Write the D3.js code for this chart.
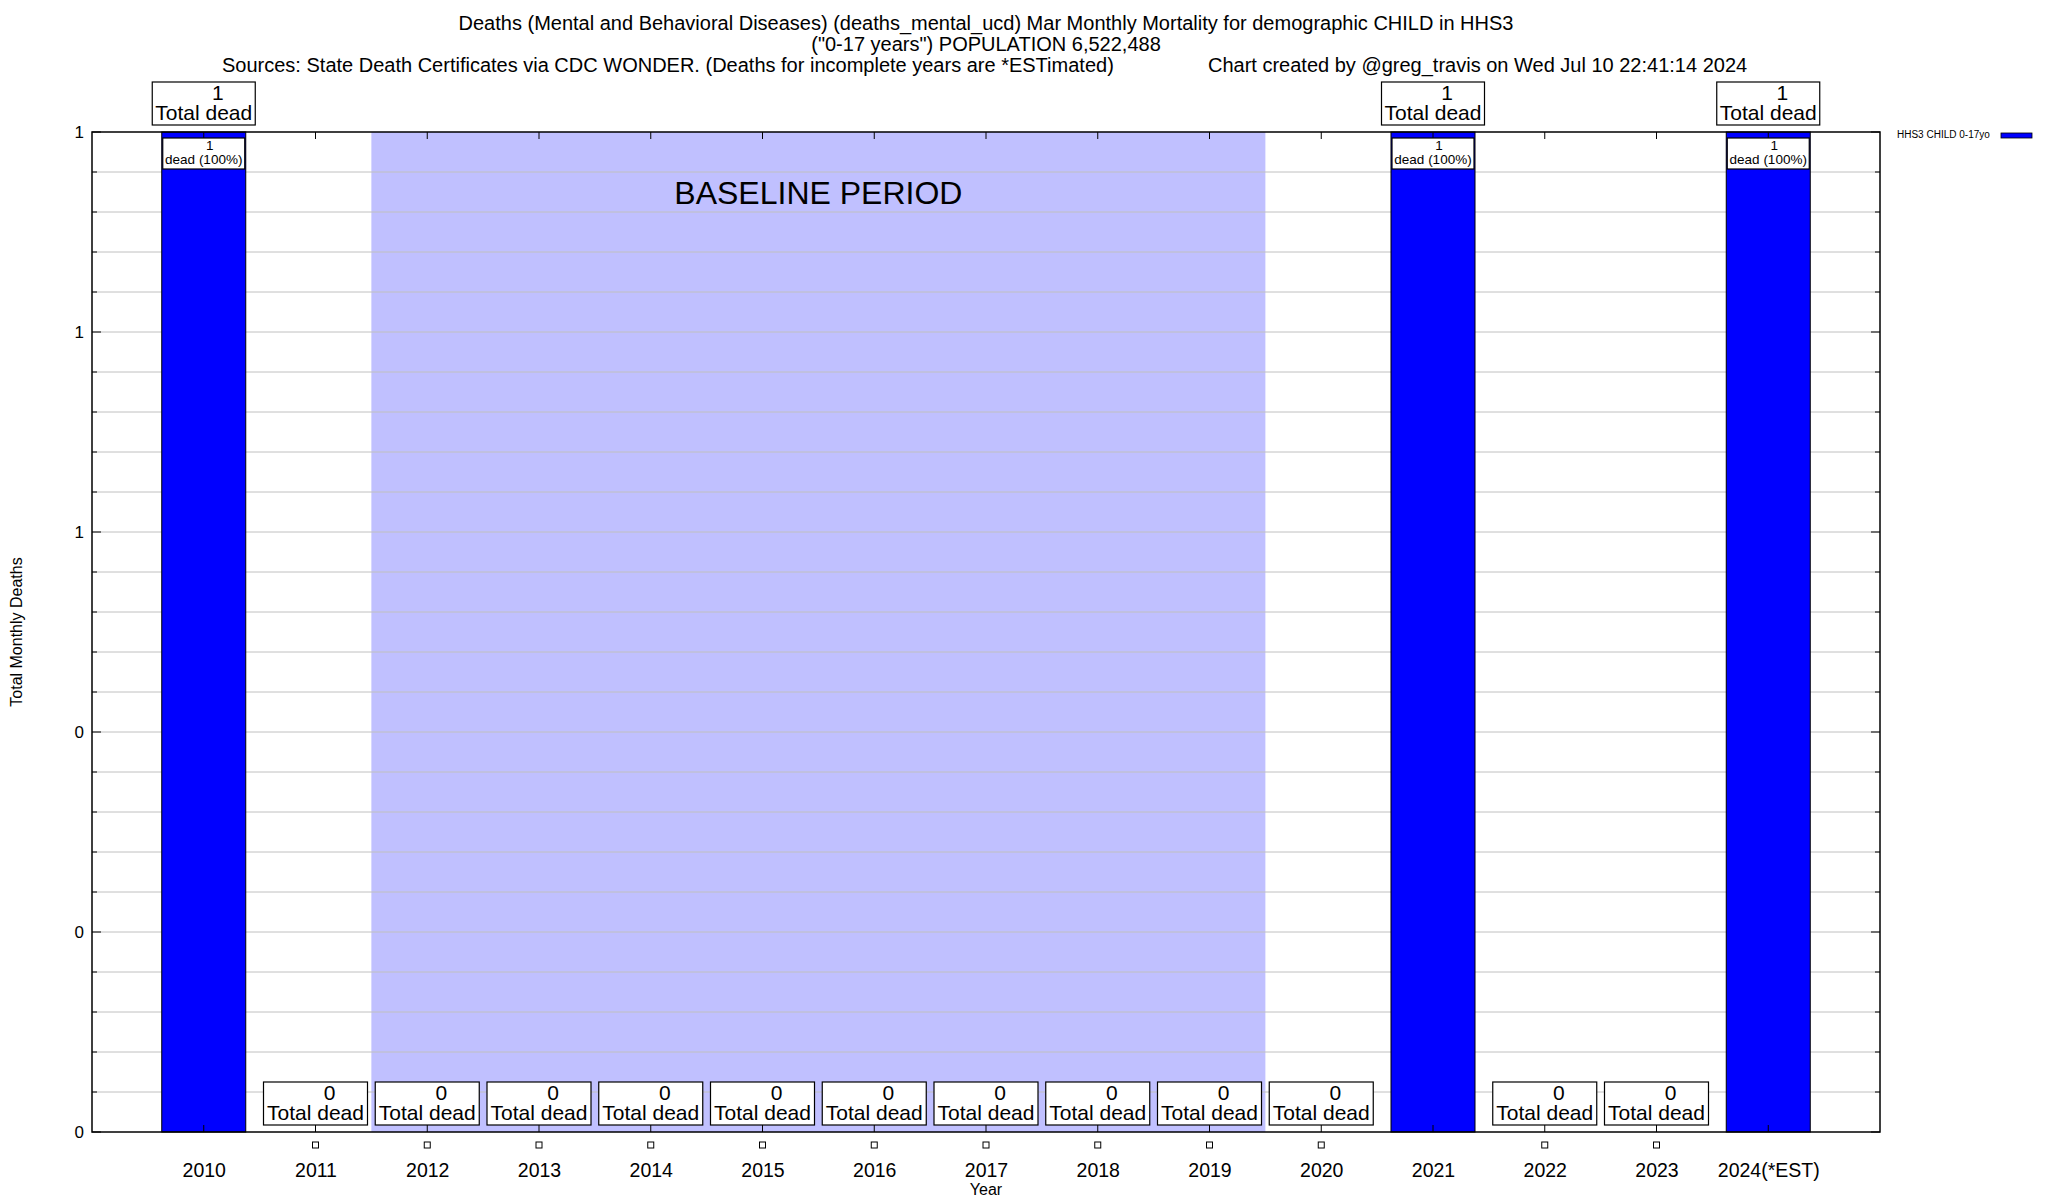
<!DOCTYPE html>
<html><head><meta charset="utf-8">
<script src="https://cdn.jsdelivr.net/npm/d3@7"></script>
<style>
body{margin:0;background:#fff;}
svg{display:block;font-family:"Liberation Sans",Arial,Helvetica,sans-serif;}
</style></head><body>
<svg id="c" width="2048" height="1200"></svg>
<script>
const years = ["2010","2011","2012","2013","2014","2015","2016","2017","2018","2019","2020","2021","2022","2023","2024(*EST)"];
const deaths = [1,0,0,0,0,0,0,0,0,0,0,1,0,0,1];
const baselineStart = "2012", baselineEnd = "2019";
const yMajorTicks = [0,0.2,0.4,0.6,0.8,1.0];
const titleLines = [
  "Deaths (Mental and Behavioral Diseases) (deaths_mental_ucd) Mar Monthly Mortality for demographic CHILD in HHS3",
  "(\"0-17 years\") POPULATION 6,522,488"
];
const sourceText = "Sources: State Death Certificates via CDC WONDER. (Deaths for incomplete years are *ESTimated)";
const creditText = "Chart created by @greg_travis on Wed Jul 10 22:41:14 2024";
const seriesName = "HHS3 CHILD 0-17yo";

const L=92,R=1880,T=132,B=1132;
const svg=d3.select("#c");
const x=d3.scaleLinear().domain([-1,years.length]).range([L,R]);
const y=d3.scaleLinear().domain([0,1]).range([B,T]);
const bw=84;

// titles
const cx=(L+R)/2;
svg.append("text").attr("x",cx).attr("y",30).attr("text-anchor","middle").attr("font-size",20).text(titleLines[0]);
svg.append("text").attr("x",cx).attr("y",51).attr("text-anchor","middle").attr("font-size",20).text(titleLines[1]);
svg.append("text").attr("x",222).attr("y",72).attr("font-size",20).text(sourceText);
svg.append("text").attr("x",1208).attr("y",72).attr("font-size",20).text(creditText);

// baseline shading
const i0=years.indexOf(baselineStart), i1=years.indexOf(baselineEnd);
svg.append("rect").attr("x",x(i0-0.5)).attr("y",T).attr("width",x(i1+0.5)-x(i0-0.5)).attr("height",B-T).attr("fill","#c0c0ff");

// grid
const gridVals=d3.range(0,1.0001,0.04);
svg.append("g").selectAll("line").data(gridVals.slice(1,-1)).join("line")
  .attr("x1",L).attr("x2",R).attr("y1",d=>y(d)).attr("y2",d=>y(d))
  .attr("stroke","#c0c0c0").attr("stroke-width",1);

svg.append("text").attr("x",(x(i0-0.5)+x(i1+0.5))/2).attr("y",204).attr("text-anchor","middle")
  .attr("font-size",32).text("BASELINE PERIOD");

// bars
svg.append("g").selectAll("rect").data(deaths.map((v,i)=>({v,i}))).join("rect")
  .filter(d=>d.v>0)
  .attr("x",d=>x(d.i)-bw/2).attr("width",bw).attr("y",d=>y(d.v)).attr("height",d=>y(0)-y(d.v))
  .attr("fill","#0000ff").attr("stroke","#000").attr("stroke-width",1);

// y axis
const yAxis=d3.axisLeft(y).tickValues(yMajorTicks).tickFormat(d3.format(".0f")).tickSize(0).tickPadding(8);
const ga=svg.append("g").attr("transform",`translate(${L},0)`).call(yAxis);
ga.select(".domain").remove();
ga.selectAll("text").attr("font-size",17).attr("font-family","Liberation Sans, Arial, sans-serif").attr("fill","#000");
// y ticks (inward)
const minorT=gridVals;
svg.append("g").selectAll("line").data(minorT).join("line")
  .attr("x1",L).attr("x2",d=>L+(yMajorTicks.some(m=>Math.abs(m-d)<1e-6)?9:5)).attr("y1",d=>y(d)).attr("y2",d=>y(d)).attr("stroke","#000");
svg.append("g").selectAll("line").data(minorT).join("line")
  .attr("x1",R).attr("x2",d=>R-(yMajorTicks.some(m=>Math.abs(m-d)<1e-6)?9:5)).attr("y1",d=>y(d)).attr("y2",d=>y(d)).attr("stroke","#000");

// x axis ticks and labels
const xAxis=d3.axisBottom(x).tickValues(d3.range(years.length)).tickFormat(i=>years[i]).tickSize(0).tickPadding(0);
const gx=svg.append("g").attr("transform",`translate(0,${B})`).call(xAxis);
gx.select(".domain").remove();
gx.selectAll("text").attr("font-size",19.5).attr("font-family","Liberation Sans, Arial, sans-serif").attr("fill","#000").attr("dy",null).attr("y",45);
svg.append("g").selectAll("line").data(d3.range(years.length)).join("line")
  .attr("x1",i=>x(i)).attr("x2",i=>x(i)).attr("y1",B).attr("y2",B-7).attr("stroke","#000");
svg.append("g").selectAll("line").data(d3.range(years.length)).join("line")
  .attr("x1",i=>x(i)).attr("x2",i=>x(i)).attr("y1",T).attr("y2",T+7).attr("stroke","#000");

// border
svg.append("rect").attr("x",L).attr("y",T).attr("width",R-L).attr("height",B-T).attr("fill","none").attr("stroke","#000").attr("stroke-width",1.5);

// zero labels and markers
const data=deaths.map((v,i)=>({v,i}));
const zeros=data.filter(d=>d.v===0);
const gz=svg.append("g").selectAll("g").data(zeros).join("g").attr("transform",d=>`translate(${x(d.i)},0)`);
gz.append("rect").attr("x",-52).attr("y",1082).attr("width",104).attr("height",43).attr("fill","#fff").attr("stroke","#000").attr("stroke-width",1.2);
gz.append("text").attr("x",14).attr("y",1100).attr("text-anchor","middle").attr("font-size",21).text(d=>d.v);
gz.append("text").attr("x",0).attr("y",1120).attr("text-anchor","middle").attr("font-size",21).text("Total dead");
gz.append("rect").attr("x",-3).attr("y",1142).attr("width",6).attr("height",6).attr("fill","#fff").attr("stroke","#000").attr("stroke-width",1);

// positive labels
const pos=data.filter(d=>d.v>0);
const gp=svg.append("g").selectAll("g").data(pos).join("g").attr("transform",d=>`translate(${x(d.i)},0)`);
gp.append("rect").attr("x",-51.5).attr("y",82).attr("width",103).attr("height",43).attr("fill","#fff").attr("stroke","#000").attr("stroke-width",1.2);
gp.append("text").attr("x",14).attr("y",100).attr("text-anchor","middle").attr("font-size",21).text(d=>d.v);
gp.append("text").attr("x",0).attr("y",120).attr("text-anchor","middle").attr("font-size",21).text("Total dead");
gp.append("rect").attr("x",-41).attr("y",d=>y(d.v)+6).attr("width",82).attr("height",31).attr("fill","#fff").attr("stroke","#000").attr("stroke-width",1.2);
gp.append("text").attr("x",6).attr("y",d=>y(d.v)+18).attr("text-anchor","middle").attr("font-size",13.5).text(d=>d.v);
gp.append("text").attr("x",0).attr("y",d=>y(d.v)+32).attr("text-anchor","middle").attr("font-size",13.5).text(d=>`dead (${Math.round(d.v/d3.sum(deaths.filter((v,j)=>j===d.i))*100)}%)`);

// axis titles
svg.append("text").attr("transform",`translate(22,${(T+B)/2}) rotate(-90)`).attr("text-anchor","middle").attr("font-size",16).text("Total Monthly Deaths");
svg.append("text").attr("x",cx).attr("y",1195).attr("text-anchor","middle").attr("font-size",16).text("Year");

// legend
svg.append("text").attr("x",1897).attr("y",138).attr("font-size",10).text(seriesName);
svg.append("rect").attr("x",2001).attr("y",133).attr("width",31).attr("height",5).attr("fill","#0000ff").attr("stroke","#000").attr("stroke-width",0.8);
</script></body></html>
